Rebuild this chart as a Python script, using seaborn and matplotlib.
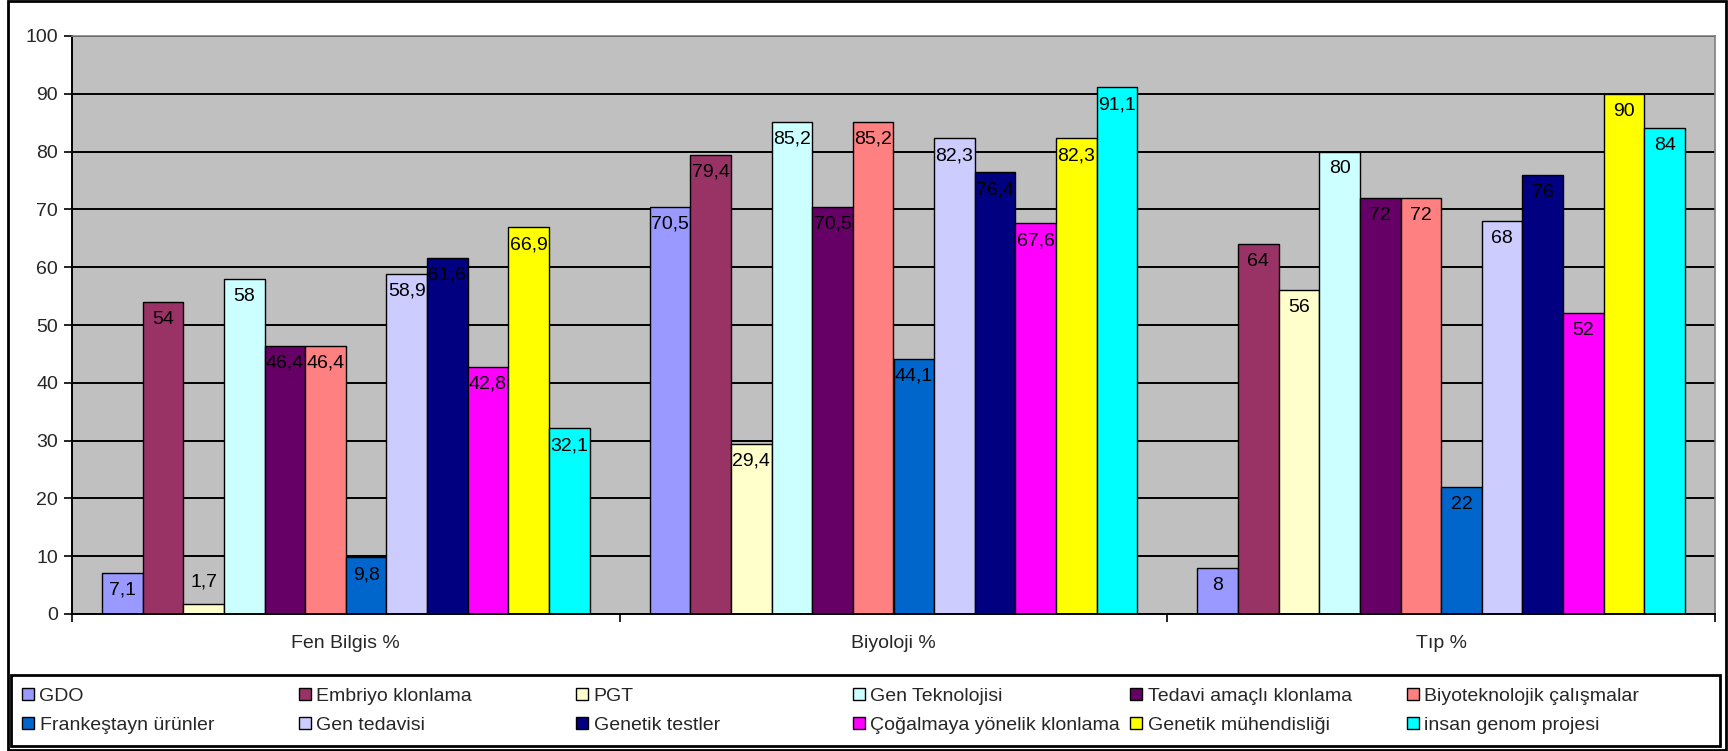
import matplotlib
matplotlib.use("Agg")
import matplotlib.pyplot as plt
from matplotlib.patches import Rectangle
import seaborn as sns
import pandas as pd

categories = ["Fen Bilgis %", "Biyoloji %", "Tıp %"]
series = ["GDO", "Embriyo klonlama", "PGT", "Gen Teknolojisi", "Tedavi amaçlı klonlama",
          "Biyoteknolojik çalışmalar", "Frankeştayn ürünler", "Gen tedavisi", "Genetik testler",
          "Çoğalmaya yönelik klonlama", "Genetik mühendisliği", "insan genom projesi"]
fen_values = [7.1, 54, 1.7, 58, 46.4, 46.4, 9.8, 58.9, 61.6, 42.8, 66.9, 32.1]
biyoloji_values = [70.5, 79.4, 29.4, 85.2, 70.5, 85.2, 44.1, 82.3, 76.4, 67.6, 82.3, 91.1]
tip_values = [8, 64, 56, 80, 72, 72, 22, 68, 76, 52, 90, 84]
colors = ["#9999FF", "#993366", "#FFFFCC", "#CCFFFF", "#660066", "#FF8080",
          "#0066CC", "#CCCCFF", "#000080", "#FF00FF", "#FFFF00", "#00FFFF"]
yticks = list(range(0, 101, 10))

rows = []
for cat, vals in zip(categories, [fen_values, biyoloji_values, tip_values]):
    for s, v in zip(series, vals):
        rows.append({"category": cat, "series": s, "value": v})
df = pd.DataFrame(rows)

sns.set_theme(style="white")
plt.rcParams["font.family"] = ["Liberation Sans", "DejaVu Sans"]

W, H = 1728, 751
fig = plt.figure(figsize=(W / 100, H / 100), dpi=100)
ax = fig.add_axes([72 / W, 1 - 614 / H, (1715 - 72) / W, (614 - 36) / H])
ax.set_facecolor("#C0C0C0")

sns.barplot(data=df, x="category", y="value", hue="series", order=categories,
            hue_order=series, palette=colors, saturation=1, width=0.89,
            edgecolor="black", linewidth=1.0, ax=ax, errorbar=None)

handles, labels = ax.get_legend_handles_labels()
if ax.get_legend() is not None:
    ax.get_legend().remove()

FS = 14
ax.set_ylim(0, 100)
ax.set_xlim(-0.5, 2.5)
ax.set_yticks(yticks)
ax.set_yticklabels([str(t) for t in yticks], fontsize=FS)
ax.set_axisbelow(True)
ax.yaxis.grid(True, color="black", linewidth=1.4)
ax.xaxis.grid(False)
ax.set_xlabel("")
ax.set_ylabel("")
ax.tick_params(axis="y", which="major", direction="out", length=6, width=1.2,
               color="black", left=True, pad=4)
ax.set_xticks(range(len(categories)))
ax.set_xticklabels(categories, fontsize=FS)
ax.set_xticks([-0.5, 0.5, 1.5, 2.5], minor=True)
ax.tick_params(axis="x", which="major", length=0, pad=15)
ax.tick_params(axis="x", which="minor", direction="out", length=6, width=1.2,
               color="black", bottom=True)
for side in ["left", "bottom"]:
    ax.spines[side].set_color("black")
    ax.spines[side].set_linewidth(1.4)
for side in ["top", "right"]:
    ax.spines[side].set_color("#808080")
    ax.spines[side].set_linewidth(1.2)

for cont in ax.containers:
    for bar in cont:
        v = bar.get_height()
        txt = f"{v:g}".replace(".", ",")
        off = 16 if v < 5 else -12.5
        ax.annotate(txt, (bar.get_x() + bar.get_width() / 2, v),
                    xytext=(0, off), textcoords="offset points",
                    ha="center", va="center", fontsize=FS, color="black")

# legend: 6 columns, 2 rows
for i in range(6):
    hs = [handles[i], handles[i + 6]]
    ls = [labels[i], labels[i + 6]]
    fig.legend(hs, ls, loc="center left",
               bbox_to_anchor=((22 + 277 * i) / W, 1 - 711 / H),
               frameon=False, fontsize=14, handlelength=0.6, handleheight=0.6,
               handletextpad=0.3, labelspacing=0.6, borderpad=0, borderaxespad=0)

fig.patches.append(Rectangle((11 / W, 1 - 746 / H), (1720 - 11) / W, (746 - 675) / H,
                             transform=fig.transFigure, fill=False,
                             edgecolor="black", linewidth=2))
fig.patches.append(Rectangle((8 / W, 1 / H), (1726 - 8) / W, (750 - 1) / H,
                             transform=fig.transFigure, fill=False,
                             edgecolor="black", linewidth=2))

fig.savefig("out.png", dpi=100, facecolor="white")
